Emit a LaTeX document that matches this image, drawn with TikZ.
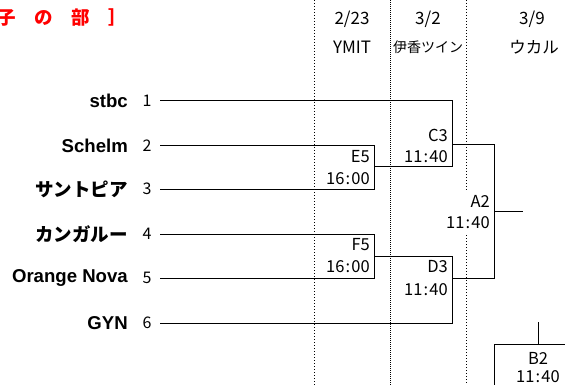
\documentclass[tikz,border=0pt]{standalone}
\usepackage{fontspec}
\newfontfamily\jp{Noto Sans CJK JP}
\newfontfamily\lat{Liberation Sans}
\definecolor{titlered}{RGB}{255,0,0}
\newcommand\tm[2]{#1\kern1.2pt:\kern1.2pt#2}
\begin{document}
\begin{tikzpicture}[x=1pt,y=-1pt,
  line/.style={line width=1pt,line join=miter},
  grid1/.style={line width=1pt,dash pattern=on 1pt off 2pt},
  grid2/.style={line width=1pt,dash pattern=on 1pt off 1pt},
  team/.style={anchor=east,inner sep=0pt,font=\fontsize{18.6}{18.6}\selectfont\lat\bfseries},
  teamjp/.style={anchor=east,inner sep=0pt,font=\fontsize{18.5}{18.5}\selectfont\jp\bfseries},
  num/.style={inner sep=0pt,font=\fontsize{16}{16}\selectfont\jp},
  lab/.style={anchor=east,inner sep=0pt,font=\fontsize{16.5}{16.5}\selectfont\jp},
  labc/.style={inner sep=0pt,font=\fontsize{16.5}{16.5}\selectfont\jp},
  head/.style={inner sep=0pt,font=\fontsize{17}{17}\selectfont\jp},
]
\useasboundingbox (0,0) rectangle (565,385);
\clip (0,0) rectangle (565,385);
\fill[white] (0,0) rectangle (565,385);

% title
\node[anchor=west,inner sep=0pt,text=titlered,font=\fontsize{18.5}{18.5}\selectfont\jp\bfseries] (title) at (-3,18) {子　の　部　］};

% dotted column lines
\coordinate (g1t) at (314,0); \coordinate (g1b) at (314,385);
\coordinate (g2t) at (390,0); \coordinate (g2b) at (390,385);
\coordinate (g3t) at (466,0); \coordinate (g3m) at (466,190);
\coordinate (g3n) at (466,235); \coordinate (g3b) at (466,385);
\draw[grid1] (g1t) -- (g1b);
\draw[grid2] (g2t) -- (g2b);
\draw[grid1] (g3t) -- (g3m);
\draw[grid1] (g3n) -- (g3b);

% headers
\node[head] (d1) at (352,19) {2/23};
\node[head] (v1) at (352,47) {YMIT};
\node[head] (d2) at (428,19) {3/2};
\node[head,font=\fontsize{14}{14}\selectfont\jp] (v2) at (428,47) {伊香ツイン};
\node[head] (d3) at (532,19) {3/9};
\node[head,font=\fontsize{16.5}{16.5}\selectfont\jp] (v3) at (534,47) {ウカル};

% teams
\node[team] (tm1) at (128,101) {stbc};
\node[team] (tm2) at (128,146) {Schelm};
\node[teamjp] (tm3) at (128,189) {サントピア};
\node[teamjp] (tm4) at (128,234) {カンガルー};
\node[team] (tm5) at (128,278) {Orange Nova};
\node[team] (tm6) at (128,323) {GYN};
\foreach \i/\y in {1/101,2/146,3/189,4/234,5/278,6/323}{
  \node[num] (n\i) at (147,\y) {\i};
  \coordinate (s\i) at (160,\y);
}

% bracket coordinates
\coordinate (e5t) at (374,146); \coordinate (e5b) at (374,189); \coordinate (e5o) at (374,167);
\coordinate (f5t) at (374,234); \coordinate (f5b) at (374,278); \coordinate (f5o) at (374,256);
\coordinate (c3t) at (452,101); \coordinate (c3b) at (452,167); \coordinate (c3o) at (452,145);
\coordinate (d3t) at (452,256); \coordinate (d3b) at (452,323); \coordinate (d3o) at (452,278);
\coordinate (a2t) at (494,145); \coordinate (a2b) at (494,278); \coordinate (a2o) at (494,211);
\coordinate (fin) at (523,211);
\coordinate (b2s) at (538,322); \coordinate (b2m) at (538,344);
\coordinate (b2l) at (494,386); \coordinate (b2c) at (494,344); \coordinate (b2r) at (566,344);

\draw[line] (s2) -- (e5t) -- (e5b) -- (s3);
\draw[line] (s4) -- (f5t) -- (f5b) -- (s5);
\draw[line] (s1) -- (c3t) -- (c3b) -- (e5o);
\draw[line] (f5o) -- (d3t) -- (d3b) -- (s6);
\draw[line] (c3o) -- (a2t) -- (a2b) -- (d3o);
\draw[line] (a2o) -- (fin);
\draw[line] (b2s) -- (b2m);
\draw[line] (b2l) -- (b2c) -- (b2r);

% match labels
\node[lab] (e5a) at (370,157) {E5};
\node[lab] (e5z) at (370,179) {\tm{16}{00}};
\node[lab] (f5a) at (370,245) {F5};
\node[lab] (f5z) at (370,267) {\tm{16}{00}};
\node[lab] (c3a) at (448,135) {C3};
\node[lab] (c3z) at (448,157) {\tm{11}{40}};
\node[lab] (d3a) at (448,267) {D3};
\node[lab] (d3z) at (448,290) {\tm{11}{40}};
\node[lab] (a2a) at (490,201) {A2};
\node[lab] (a2z) at (490,223) {\tm{11}{40}};
\node[labc] (b2a) at (538,358) {B2};
\node[labc] (b2z) at (538,377) {\tm{11}{40}};
\end{tikzpicture}
\end{document}
